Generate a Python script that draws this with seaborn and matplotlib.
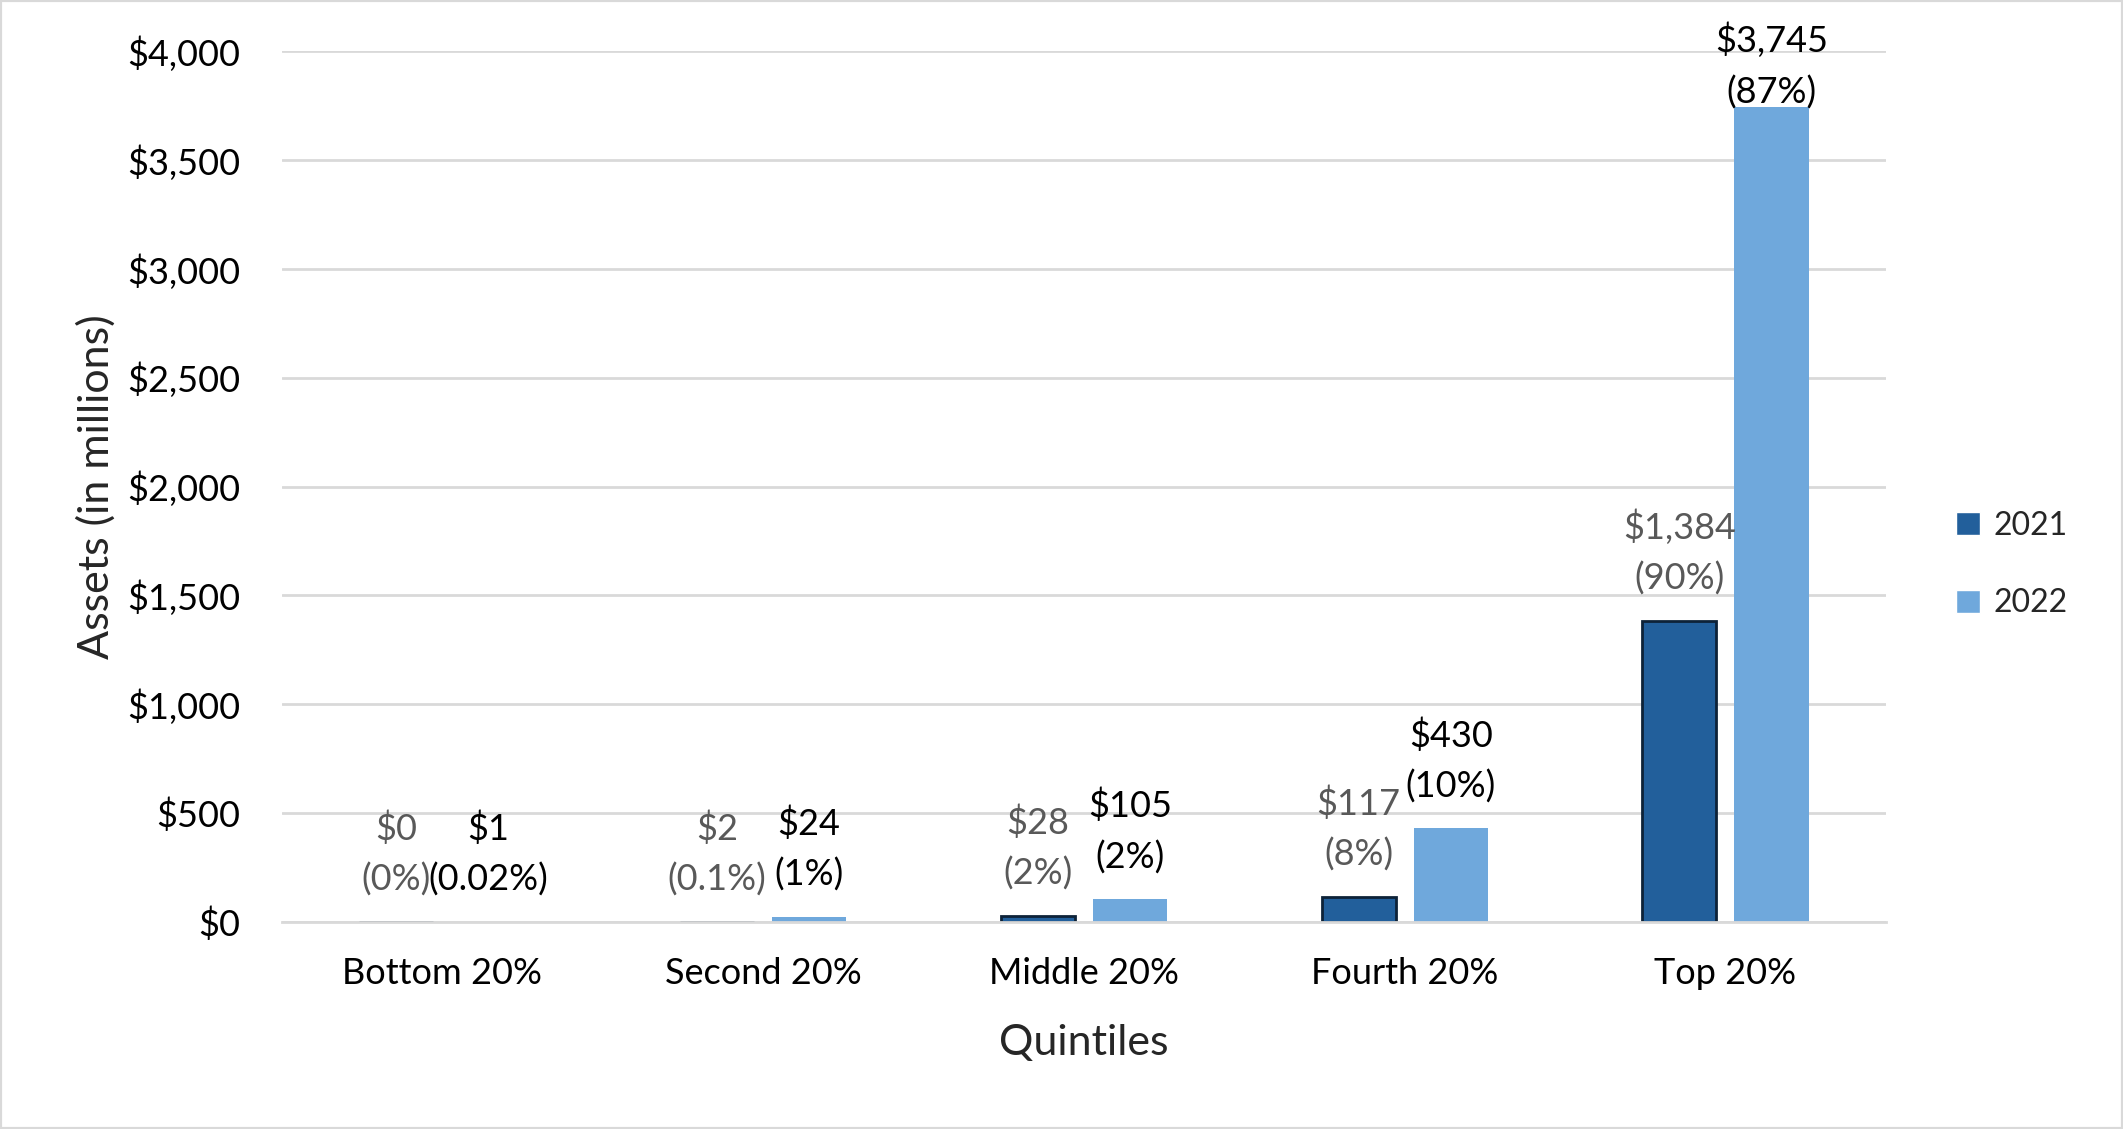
import pandas as pd
import seaborn as sns
import matplotlib.pyplot as plt
from matplotlib.patches import Rectangle
from matplotlib.ticker import FuncFormatter

# chart data
quintiles = ['Bottom 20%', 'Second 20%', 'Middle 20%', 'Fourth 20%', 'Top 20%']
years = ['2021', '2022']
assets_2021 = [0, 2, 28, 117, 1384]
assets_2022 = [1, 24, 105, 430, 3745]
share_2021 = ['0%', '0.1%', '2%', '8%', '90%']
share_2022 = ['0.02%', '1%', '2%', '10%', '87%']

df = pd.DataFrame({
    'Quintiles': quintiles * 2,
    'Year': [years[0]] * 5 + [years[1]] * 5,
    'Assets': assets_2021 + assets_2022,
})

sns.set_theme(style='white')
plt.rcParams['font.family'] = ['Lato', 'DejaVu Sans']

fig = plt.figure(figsize=(21.23, 11.29), dpi=100)
ax = fig.add_axes([0.1328, 0.1833, 0.7555, 0.7715])

sns.barplot(data=df, x='Quintiles', y='Assets', hue='Year', order=quintiles,
            hue_order=years, palette=['#225f9b', '#6fa8dc'], width=0.574,
            gap=0.195, saturation=1, ax=ax)

# bar edges: only 2021 has a dark outline
for bar in ax.containers[0]:
    bar.set_edgecolor('#0d2238')
    bar.set_linewidth(2)
for bar in ax.containers[1]:
    bar.set_edgecolor('none')
    bar.set_linewidth(0)

# data labels (the tallest one is pushed down so it stays inside the figure)
label_sets = [(assets_2021, share_2021, '#595959'), (assets_2022, share_2022, '#000000')]
for cont, (vals, shares, col) in zip(ax.containers, label_sets):
    for bar, v, s in zip(cont, vals, shares):
        off = 18 if v < 3500 else -2
        ax.annotate(f'${v:,}\n({s})', (bar.get_x() + bar.get_width() / 2, bar.get_height()),
                    xytext=(0, off), textcoords='offset points', ha='center', va='bottom',
                    fontsize=26, color=col, linespacing=1.6, annotation_clip=False)

ax.set_ylim(0, 4000)
ax.set_yticks(range(0, 4001, 500))
ax.yaxis.set_major_formatter(FuncFormatter(lambda x, p: f'${x:,.0f}'))
ax.yaxis.grid(True, color='#d9d9d9', linewidth=2)
ax.set_axisbelow(True)
for side in ['top', 'right', 'left']:
    ax.spines[side].set_visible(False)
ax.spines['bottom'].set_color('#d9d9d9')
ax.spines['bottom'].set_linewidth(2)
ax.tick_params(axis='both', length=0, labelsize=26, colors='#000000')
ax.tick_params(axis='y', pad=30)
ax.tick_params(axis='x', pad=25)

ax.set_xlabel('Quintiles', fontsize=31, labelpad=25)
ax.set_ylabel('Assets (in millions)', fontsize=31, labelpad=8)

handles, labels = ax.get_legend_handles_labels()
ax.get_legend().remove()
fig.legend(handles, labels, loc='center left', bbox_to_anchor=(0.908, 0.5),
           frameon=False, fontsize=23, handlelength=0.75, handleheight=0.75,
           handletextpad=0.4, labelspacing=1.5)

# light grey frame round the whole figure
fig.patches.append(Rectangle((0, 0), 1, 1, transform=fig.transFigure, fill=False,
                             edgecolor='#d9d9d9', linewidth=3))

fig.savefig('out.png', dpi=100, facecolor='white')
